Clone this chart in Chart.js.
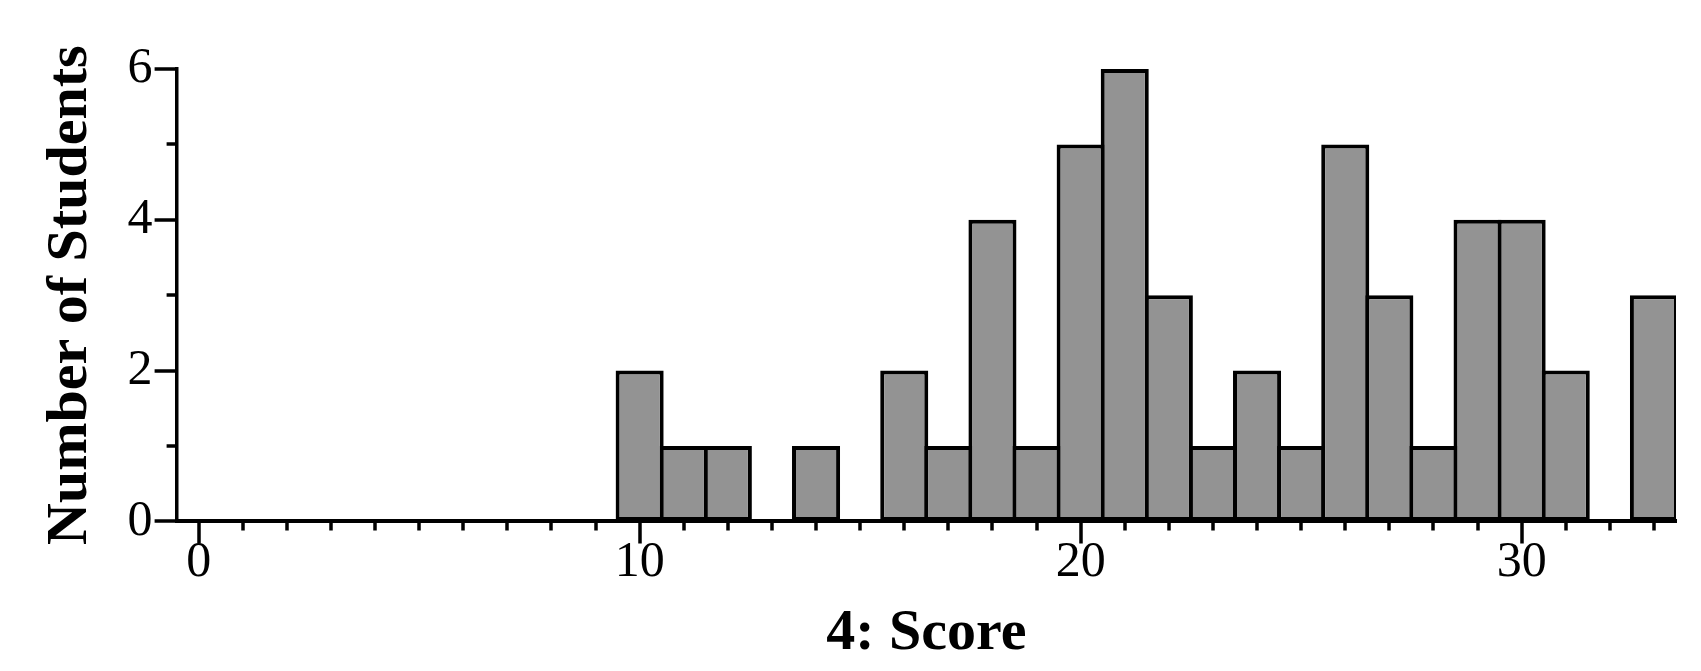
<!DOCTYPE html>
<html>
<head>
<meta charset="utf-8">
<script src="https://cdn.jsdelivr.net/npm/chart.js@4"></script>
<style>
  html, body { margin: 0; padding: 0; background: #fff; }
  canvas { display: block; }
</style>
</head>
<body>
<canvas id="histChart" width="1701" height="671"></canvas>
<script>
// histogram bins (score) and counts
const scores = [0, 1, 2, 3, 4, 5, 6, 7, 8, 9, 10, 11, 12, 13, 14, 15, 16,
    17, 18, 19, 20, 21, 22, 23, 24, 25, 26, 27, 28, 29, 30, 31, 32, 33];
const counts = [0, 0, 0, 0, 0, 0, 0, 0, 0, 0, 2, 1, 1, 0, 1, 0, 2,
    1, 4, 1, 5, 6, 3, 1, 2, 1, 5, 3, 1, 4, 4, 2, 0, 3];
const xTickLabels = [0, 10, 20, 30];
const yTickLabels = [0, 2, 4, 6];
const yMinorTicks = [1, 3, 5];

const serif = "'Liberation Serif', 'Times New Roman', serif";

// draws major/minor tick marks through the scales
const tickMarks = {
    id: "tickMarks",
    afterDraw(chart) {
        const ctx = chart.ctx;
        const xs = chart.scales.x;
        const ys = chart.scales.y;
        const area = chart.chartArea;
        ctx.save();
        ctx.strokeStyle = "#000";
        ctx.lineWidth = 3.5;
        ctx.beginPath();
        scores.forEach(v => {
            const px = Math.round(xs.getPixelForValue(v));
            const len = xTickLabels.includes(v) ? 22 : 9;
            ctx.moveTo(px, area.bottom);
            ctx.lineTo(px, area.bottom + len);
        });
        yTickLabels.forEach(v => {
            const py = Math.round(ys.getPixelForValue(v));
            ctx.moveTo(area.left - 22, py);
            ctx.lineTo(area.left, py);
        });
        yMinorTicks.forEach(v => {
            const py = Math.round(ys.getPixelForValue(v));
            ctx.moveTo(area.left - 10, py);
            ctx.lineTo(area.left, py);
        });
        ctx.stroke();
        ctx.restore();
    }
};

new Chart(document.getElementById("histChart"), {
    type: "bar",
    data: {
        datasets: [{
            data: scores.map((s, i) => ({ x: s, y: counts[i] })),
            backgroundColor: "#939393",
            borderColor: "#000",
            borderWidth: 4,
            borderSkipped: false,
            barPercentage: 1.09,
            categoryPercentage: 1,
        }]
    },
    options: {
        responsive: false,
        animation: false,
        layout: { padding: { left: 36, right: 25, top: 69, bottom: 2 } },
        plugins: {
            legend: { display: false },
            tooltip: { enabled: false }
        },
        scales: {
            x: {
                type: "linear",
                min: -0.5,
                max: 33.5,
                offset: false,
                afterBuildTicks: scale => {
                    scale.ticks = xTickLabels.map(v => ({ value: v }));
                },
                ticks: {
                    color: "#000",
                    font: { family: serif, size: 50 },
                    padding: 0,
                    maxRotation: 0
                },
                grid: {
                    offset: false,
                    drawOnChartArea: false,
                    tickLength: 11,
                    tickColor: "rgba(0,0,0,0)"
                },
                border: { color: "#000", width: 4 },
                title: {
                    display: true,
                    text: "4: Score",
                    color: "#000",
                    font: { family: serif, size: 58, weight: "bold" },
                    padding: { top: 7, bottom: 0 }
                }
            },
            y: {
                min: 0,
                max: 6,
                afterBuildTicks: scale => {
                    scale.ticks = yTickLabels.map(v => ({ value: v }));
                },
                ticks: {
                    color: "#000",
                    font: { family: serif, size: 50 },
                    padding: 2
                },
                grid: {
                    drawOnChartArea: false,
                    tickLength: 22,
                    tickColor: "rgba(0,0,0,0)"
                },
                border: { color: "#000", width: 3.5 },
                title: {
                    display: true,
                    text: "Number of Students",
                    color: "#000",
                    font: { family: serif, size: 58, weight: "bold" },
                    padding: { top: 0, bottom: 20 }
                }
            }
        }
    },
    plugins: [tickMarks]
});
</script>
</body>
</html>
